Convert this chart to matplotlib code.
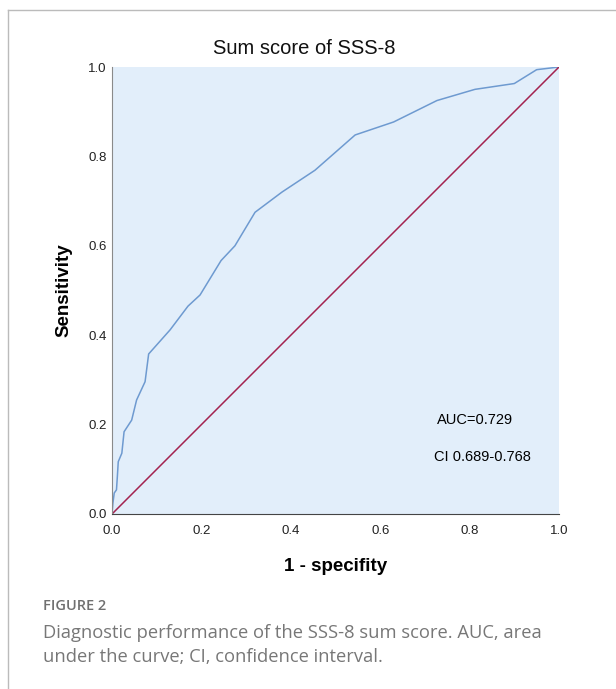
"""ROC curve for the SSS-8 sum score, with figure caption."""

import matplotlib

matplotlib.use("Agg")
import matplotlib.pyplot as plt
from matplotlib.lines import Line2D

# ROC curve
FPR = [0.0, 0.002, 0.005, 0.010, 0.012, 0.014, 0.022, 0.027, 0.044, 0.055,
       0.074, 0.082, 0.13, 0.17, 0.197, 0.244, 0.275, 0.32, 0.38, 0.454,
       0.544, 0.63, 0.727, 0.812, 0.90, 0.95, 1.0]
TPR = [0.0, 0.024, 0.047, 0.054, 0.084, 0.117, 0.136, 0.184, 0.21, 0.255,
       0.296, 0.358, 0.412, 0.465, 0.49, 0.567, 0.60, 0.675, 0.72, 0.769,
       0.848, 0.877, 0.925, 0.95, 0.963, 0.994, 1.0]
REF = [0.0, 1.0]
TICKS = [0.0, 0.2, 0.4, 0.6, 0.8, 1.0]
AUC_TEXT = "AUC=0.729"
CI_TEXT = "CI 0.689-0.768"
TITLE = "Sum score of SSS-8"
CAPTION_HEAD = "FIGURE 2"
CAPTION = ["Diagnostic performance of the SSS-8 sum score. AUC, area",
           "under the curve; CI, confidence interval."]

W, H = 616, 689
fig = plt.figure(figsize=(W / 100, H / 100), dpi=100)
ax = fig.add_axes([112 / W, 1 - 514 / H, 447 / W, 447 / H])

sans = ["Liberation Sans", "DejaVu Sans"]
ax.set_facecolor("#e2eefa")
ax.plot(FPR, TPR, color="#6e9ad0", lw=1.1)
ax.plot(REF, REF, color="#a3234f", lw=1.1)
ax.set_xlim(0, 1)
ax.set_ylim(0, 1)
ax.set_xticks(TICKS, [f"{t:.1f}" for t in TICKS], fontfamily=sans, fontsize=9.5)
ax.set_yticks(TICKS, [f"{t:.1f}" for t in TICKS], fontfamily=sans, fontsize=9.5)
ax.tick_params(length=0, pad=4, colors="#222222")
ax.tick_params(axis="x", pad=8)
ax.spines[["top", "right"]].set_visible(False)
ax.spines["left"].set_color("#8a8a8a")
ax.spines["bottom"].set_color("#444444")

ax.text(0.727, 0.21, AUC_TEXT, fontfamily=sans, fontsize=10.5, va="center")
ax.text(0.72, 0.128, CI_TEXT, fontfamily=sans, fontsize=10.5, va="center")

fig.text(304 / W, 1 - 49 / H, TITLE, fontfamily=sans, fontsize=14.5,
         ha="center", va="center", color="#111111")
ax.set_xlabel("1 - specifity", fontfamily=sans, fontsize=13.5, fontweight="bold",
              labelpad=15)
ax.set_ylabel("Sensitivity", fontfamily=sans, fontsize=13.5, fontweight="bold",
              labelpad=11)

# page frame (top and left edges only)
fig.add_artist(Line2D([8 / W, 1], [1 - 10 / H, 1 - 10 / H], transform=fig.transFigure,
                      color="#bbbbbb", lw=1))
fig.add_artist(Line2D([8 / W, 8 / W], [0, 1 - 10 / H], transform=fig.transFigure,
                      color="#bbbbbb", lw=1))

cap = ["Open Sans", "DejaVu Sans"]
fig.text(43 / W, 1 - 606 / H, CAPTION_HEAD, fontfamily=cap, fontsize=10.5,
         fontweight="semibold", color="#707070", va="center")
for i, line in enumerate(CAPTION):
    fig.text(43 / W, 1 - (633 + 24 * i) / H, line, fontfamily=cap, fontsize=13.2,
             color="#777777", va="center")

fig.savefig("out.png", dpi=100)
